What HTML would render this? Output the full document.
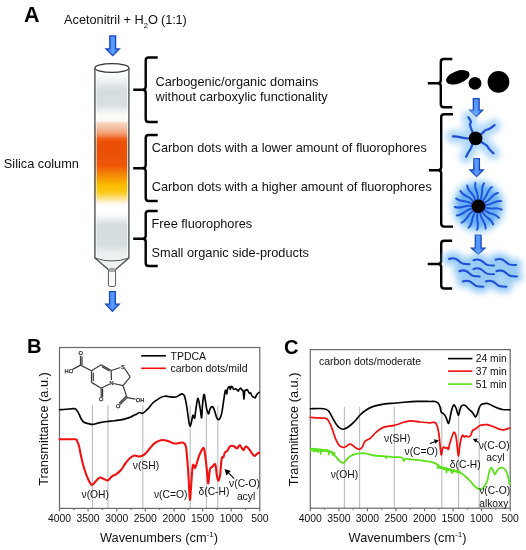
<!DOCTYPE html>
<html><head><meta charset="utf-8"><style>
html,body{margin:0;padding:0;background:#fff;}
body{width:526px;height:550px;overflow:hidden;}
svg{display:block;will-change:transform;}
text{font-family:"Liberation Sans", sans-serif;}
</style></head><body>
<svg width="526" height="550" viewBox="0 0 526 550" font-family='"Liberation Sans", sans-serif'><defs>
<linearGradient id="arrg" x1="0" y1="0" x2="1" y2="0">
 <stop offset="0" stop-color="#3a7ff0"/><stop offset="0.5" stop-color="#5a9cf8"/><stop offset="1" stop-color="#3a7ff0"/>
</linearGradient>
<linearGradient id="colg" x1="0" y1="68" x2="0" y2="262" gradientUnits="userSpaceOnUse"><stop offset="0" stop-color="#ffffff"/><stop offset="0.035" stop-color="#fbfcfc"/><stop offset="0.065" stop-color="#f0f3f3"/><stop offset="0.097" stop-color="#dde3e5"/><stop offset="0.122" stop-color="#d6dddf"/><stop offset="0.19" stop-color="#d8dfe1"/><stop offset="0.22" stop-color="#eef0f0"/><stop offset="0.245" stop-color="#fbfbfa"/><stop offset="0.27" stop-color="#fdfaf6"/><stop offset="0.287" stop-color="#f7d2bb"/><stop offset="0.325" stop-color="#f3b08a"/><stop offset="0.345" stop-color="#f2905c"/><stop offset="0.362" stop-color="#f06420"/><stop offset="0.38" stop-color="#ec5006"/><stop offset="0.44" stop-color="#eb5008"/><stop offset="0.505" stop-color="#ef5606"/><stop offset="0.535" stop-color="#f27a08"/><stop offset="0.57" stop-color="#f69a04"/><stop offset="0.605" stop-color="#fbbe00"/><stop offset="0.64" stop-color="#fdc818"/><stop offset="0.668" stop-color="#fde07a"/><stop offset="0.695" stop-color="#fef6de"/><stop offset="0.715" stop-color="#ffffff"/><stop offset="0.76" stop-color="#fafbfb"/><stop offset="0.785" stop-color="#e6eaeb"/><stop offset="0.81" stop-color="#d6dde0"/><stop offset="0.91" stop-color="#d6dde0"/><stop offset="0.95" stop-color="#eaeeef"/><stop offset="1" stop-color="#f4f6f6"/></linearGradient>
<linearGradient id="colh" x1="0" y1="0" x2="1" y2="0">
 <stop offset="0" stop-color="#000" stop-opacity="0.06"/><stop offset="0.3" stop-color="#000" stop-opacity="0"/>
 <stop offset="0.7" stop-color="#000" stop-opacity="0"/><stop offset="1" stop-color="#000" stop-opacity="0.06"/>
</linearGradient>
<filter id="glow" x="-50%" y="-50%" width="200%" height="200%"><feGaussianBlur stdDeviation="3"/></filter>
<filter id="glow2" x="-50%" y="-50%" width="200%" height="200%"><feGaussianBlur stdDeviation="2.2"/></filter>
</defs><rect width="526" height="550" fill="#fff"/><text x="24" y="21.7" font-size="21.5" text-anchor="start" font-weight="bold" fill="#000" >A</text><text x="64" y="24.2" font-size="12.75" fill="#111">Acetonitril + H<tspan font-size="7.6" dy="3.4">2</tspan><tspan dy="-3.4" letter-spacing="-0.15">O (1:1)</tspan></text><polygon points="109.8,35.8 115.60000000000001,35.8 115.60000000000001,48.8 119.4,48.8 112.7,55.6 106.0,48.8 109.8,48.8" fill="url(#arrg)" stroke="#1a48c2" stroke-width="1.3" stroke-linejoin="miter"/><path d="M94.9,68 L94.9,258 L108.3,269 L115.6,269 L128.9,258 L128.9,68 Z" fill="url(#colg)"/><path d="M96.2,70 L96.2,257 M127.60000000000001,70 L127.60000000000001,257" stroke="#fff" stroke-opacity="0.75" stroke-width="1.1"/><path d="M94.9,258 Q111.9,263 128.9,258 L115.6,269 L108.3,269 Z" fill="#f1f3f3"/><path d="M94.9,68 L94.9,258 L108.3,269.5 M128.9,68 L128.9,258 L115.6,269.5" fill="none" stroke="#4a4f4f" stroke-width="1.35"/><path d="M94.9,258 Q111.9,264 128.9,258" fill="none" stroke="#444" stroke-width="0.9"/><ellipse cx="111.9" cy="68" rx="17.0" ry="4.4" fill="#fff" stroke="#333" stroke-width="1.1"/><path d="M108.4,270 L108.4,284.5 Q108.4,286.5 110.4,286.5 L113.6,286.5 Q115.6,286.5 115.6,284.5 L115.6,270" fill="#f7f8f8" stroke="#444" stroke-width="0.9"/><ellipse cx="112" cy="270" rx="3.6" ry="1.2" fill="#ddd" stroke="#444" stroke-width="0.8"/><polygon points="109.55,291.6 115.35000000000001,291.6 115.35000000000001,304.2 119.15,304.2 112.45,311.2 105.75,304.2 109.55,304.2" fill="url(#arrg)" stroke="#1a48c2" stroke-width="1.3" stroke-linejoin="miter"/><text x="3.8" y="167.8" font-size="12.75" text-anchor="start" font-weight="normal" fill="#111" >Silica column</text><path d="M157.7,57.5 L148.7,57.5 Q145.7,57.5 145.7,60.5 L145.7,86.7 Q145.7,89.7 142.7,89.7 L133.2,89.7 M142.7,89.7 Q145.7,89.7 145.7,92.7 L145.7,119 Q145.7,122 148.7,122 L157.7,122" fill="none" stroke="#000" stroke-width="2.4" stroke-linejoin="round"/><path d="M157.7,135 L148.7,135 Q145.7,135 145.7,138 L145.7,165.2 Q145.7,168.2 142.7,168.2 L133.2,168.2 M142.7,168.2 Q145.7,168.2 145.7,171.2 L145.7,198 Q145.7,201 148.7,201 L157.7,201" fill="none" stroke="#000" stroke-width="2.4" stroke-linejoin="round"/><path d="M157.7,211 L148.7,211 Q145.7,211 145.7,214 L145.7,235.8 Q145.7,238.8 142.7,238.8 L133.2,238.8 M142.7,238.8 Q145.7,238.8 145.7,241.8 L145.7,263 Q145.7,266 148.7,266 L157.7,266" fill="none" stroke="#000" stroke-width="2.4" stroke-linejoin="round"/><text x="155.5" y="86.4" font-size="12.8" text-anchor="start" font-weight="normal" fill="#111" >Carbogenic/organic domains</text><text x="155.5" y="101.2" font-size="12.8" text-anchor="start" font-weight="normal" fill="#111" >without carboxylic functionality</text><text x="151.8" y="151.5" font-size="12.75" text-anchor="start" font-weight="normal" fill="#111" >Carbon dots with a lower amount of fluorophores</text><text x="151.8" y="190.5" font-size="12.75" text-anchor="start" font-weight="normal" fill="#111" >Carbon dots with a higher amount of fluorophores</text><text x="151.5" y="228.1" font-size="12.75" text-anchor="start" font-weight="normal" fill="#111" >Free fluorophores</text><text x="151.5" y="256.7" font-size="12.75" text-anchor="start" font-weight="normal" fill="#111" >Small organic side-products</text><path d="M452.3,59 L443.8,59 Q440.8,59 440.8,62 L440.8,80.3 Q440.8,83.3 437.8,83.3 L427.8,83.3 M437.8,83.3 Q440.8,83.3 440.8,86.3 L440.8,104.2 Q440.8,107.2 443.8,107.2 L452.3,107.2" fill="none" stroke="#000" stroke-width="2.4" stroke-linejoin="round"/><path d="M453.0,114.2 L444.2,114.2 Q441.2,114.2 441.2,117.2 L441.2,167.2 Q441.2,170.2 438.2,170.2 L428.9,170.2 M438.2,170.2 Q441.2,170.2 441.2,173.2 L441.2,223.6 Q441.2,226.6 444.2,226.6 L453.0,226.6" fill="none" stroke="#000" stroke-width="2.4" stroke-linejoin="round"/><path d="M452.2,240.8 L444.2,240.8 Q441.2,240.8 441.2,243.8 L441.2,261 Q441.2,264 438.2,264 L427.7,264 M438.2,264 Q441.2,264 441.2,267 L441.2,285.5 Q441.2,288.5 444.2,288.5 L452.2,288.5" fill="none" stroke="#000" stroke-width="2.4" stroke-linejoin="round"/><ellipse cx="457.8" cy="77.3" rx="12.2" ry="6.3" transform="rotate(-20 457.8 77.3)" fill="#000"/><circle cx="475" cy="83.3" r="6.4" fill="#000"/><circle cx="498.5" cy="81.9" r="10.9" fill="#000"/><polygon points="473.35,98.6 479.15,98.6 479.15,110.2 482.65,110.2 476.25,116.6 469.85,110.2 473.35,110.2" fill="url(#arrg)" stroke="#1a48c2" stroke-width="1.3" stroke-linejoin="miter"/><polygon points="473.8,158.6 479.40000000000003,158.6 479.40000000000003,170 483.3,170 476.6,176.6 469.90000000000003,170 473.8,170" fill="url(#arrg)" stroke="#1a48c2" stroke-width="1.3" stroke-linejoin="miter"/><polygon points="475.3,235.1 481.09999999999997,235.1 481.09999999999997,248.2 484.9,248.2 478.2,254.2 471.5,248.2 475.3,248.2" fill="url(#arrg)" stroke="#1a48c2" stroke-width="1.3" stroke-linejoin="miter"/><g filter="url(#glow)" opacity="0.9"><path d="M475.60,138.40 C475.08,137.33 473.42,134.27 472.50,132.00 C471.58,129.73 470.37,126.57 470.10,124.80 C469.83,123.03 471.18,122.67 470.90,121.40 C470.62,120.13 468.82,117.90 468.40,117.20" fill="none" stroke="#a4d3f9" stroke-width="13" stroke-linejoin="round" stroke-linecap="round" /><path d="M475.60,138.40 C476.58,137.67 479.85,135.37 481.50,134.00 C483.15,132.63 484.17,131.07 485.50,130.20 C486.83,129.33 487.98,129.63 489.50,128.80 C491.02,127.97 493.75,125.80 494.60,125.20" fill="none" stroke="#a4d3f9" stroke-width="13" stroke-linejoin="round" stroke-linecap="round" /><path d="M475.60,138.40 C474.50,138.42 471.05,138.58 469.00,138.50 C466.95,138.42 465.02,138.18 463.30,137.90 C461.58,137.62 460.45,137.05 458.70,136.80 C456.95,136.55 453.78,136.47 452.80,136.40" fill="none" stroke="#a4d3f9" stroke-width="13" stroke-linejoin="round" stroke-linecap="round" /><path d="M475.60,138.40 C475.07,139.42 473.22,142.77 472.40,144.50 C471.58,146.23 471.37,147.52 470.70,148.80 C470.03,150.08 469.17,150.87 468.40,152.20 C467.63,153.53 466.48,156.03 466.10,156.80" fill="none" stroke="#a4d3f9" stroke-width="13" stroke-linejoin="round" stroke-linecap="round" /><path d="M475.60,138.40 C476.67,139.08 480.17,141.33 482.00,142.50 C483.83,143.67 485.35,144.25 486.60,145.40 C487.85,146.55 488.35,148.08 489.50,149.40 C490.65,150.72 492.83,152.65 493.50,153.30" fill="none" stroke="#a4d3f9" stroke-width="13" stroke-linejoin="round" stroke-linecap="round" /></g><path d="M475.60,138.40 C475.08,137.33 473.42,134.27 472.50,132.00 C471.58,129.73 470.37,126.57 470.10,124.80 C469.83,123.03 471.18,122.67 470.90,121.40 C470.62,120.13 468.82,117.90 468.40,117.20" fill="none" stroke="#1f50d4" stroke-width="2.2" stroke-linejoin="round" stroke-linecap="round" /><path d="M475.60,138.40 C476.58,137.67 479.85,135.37 481.50,134.00 C483.15,132.63 484.17,131.07 485.50,130.20 C486.83,129.33 487.98,129.63 489.50,128.80 C491.02,127.97 493.75,125.80 494.60,125.20" fill="none" stroke="#1f50d4" stroke-width="2.2" stroke-linejoin="round" stroke-linecap="round" /><path d="M475.60,138.40 C474.50,138.42 471.05,138.58 469.00,138.50 C466.95,138.42 465.02,138.18 463.30,137.90 C461.58,137.62 460.45,137.05 458.70,136.80 C456.95,136.55 453.78,136.47 452.80,136.40" fill="none" stroke="#1f50d4" stroke-width="2.2" stroke-linejoin="round" stroke-linecap="round" /><path d="M475.60,138.40 C475.07,139.42 473.22,142.77 472.40,144.50 C471.58,146.23 471.37,147.52 470.70,148.80 C470.03,150.08 469.17,150.87 468.40,152.20 C467.63,153.53 466.48,156.03 466.10,156.80" fill="none" stroke="#1f50d4" stroke-width="2.2" stroke-linejoin="round" stroke-linecap="round" /><path d="M475.60,138.40 C476.67,139.08 480.17,141.33 482.00,142.50 C483.83,143.67 485.35,144.25 486.60,145.40 C487.85,146.55 488.35,148.08 489.50,149.40 C490.65,150.72 492.83,152.65 493.50,153.30" fill="none" stroke="#1f50d4" stroke-width="2.2" stroke-linejoin="round" stroke-linecap="round" /><circle cx="475.6" cy="138.4" r="6.9" fill="#000"/><circle cx="478.4" cy="206.2" r="26.5" fill="#a4d2f9" filter="url(#glow)"/><circle cx="478.4" cy="206.2" r="21" fill="#62acf3" filter="url(#glow2)" opacity="0.9"/><path d="M484.8,207.2 C489.9,210.6 496.6,206.3 501.6,209.7" stroke="#1f55da" stroke-width="2" fill="none" stroke-linecap="round"/><path d="M484.0,209.4 C487.5,214.4 495.3,212.9 498.8,217.9" stroke="#1f55da" stroke-width="2" fill="none" stroke-linecap="round"/><path d="M482.5,211.2 C483.9,217.2 491.8,218.5 493.2,224.4" stroke="#1f55da" stroke-width="2" fill="none" stroke-linecap="round"/><path d="M480.4,212.4 C479.6,218.4 486.4,222.5 485.6,228.6" stroke="#1f55da" stroke-width="2" fill="none" stroke-linecap="round"/><path d="M478.0,212.7 C475.1,218.0 480.0,224.3 477.0,229.7" stroke="#1f55da" stroke-width="2" fill="none" stroke-linecap="round"/><path d="M475.7,212.1 C471.1,216.0 473.3,223.7 468.7,227.6" stroke="#1f55da" stroke-width="2" fill="none" stroke-linecap="round"/><path d="M473.8,210.7 C468.0,212.7 467.3,220.6 461.6,222.6" stroke="#1f55da" stroke-width="2" fill="none" stroke-linecap="round"/><path d="M472.4,208.8 C466.3,208.5 462.9,215.7 456.8,215.4" stroke="#1f55da" stroke-width="2" fill="none" stroke-linecap="round"/><path d="M471.9,206.4 C466.3,204.0 460.5,209.4 454.9,207.0" stroke="#1f55da" stroke-width="2" fill="none" stroke-linecap="round"/><path d="M472.3,204.1 C467.9,199.8 460.5,202.7 456.2,198.5" stroke="#1f55da" stroke-width="2" fill="none" stroke-linecap="round"/><path d="M473.4,202.0 C470.9,196.4 463.0,196.5 460.5,191.0" stroke="#1f55da" stroke-width="2" fill="none" stroke-linecap="round"/><path d="M475.3,200.5 C475.0,194.4 467.5,191.6 467.2,185.5" stroke="#1f55da" stroke-width="2" fill="none" stroke-linecap="round"/><path d="M477.6,199.8 C479.5,194.0 473.5,188.7 475.4,182.9" stroke="#1f55da" stroke-width="2" fill="none" stroke-linecap="round"/><path d="M480.0,199.9 C483.8,195.2 480.2,188.1 484.0,183.4" stroke="#1f55da" stroke-width="2" fill="none" stroke-linecap="round"/><path d="M482.1,200.9 C487.4,197.9 486.6,190.0 491.9,187.0" stroke="#1f55da" stroke-width="2" fill="none" stroke-linecap="round"/><path d="M483.8,202.6 C489.8,201.7 491.9,194.0 497.9,193.1" stroke="#1f55da" stroke-width="2" fill="none" stroke-linecap="round"/><path d="M484.7,204.8 C490.7,206.1 495.4,199.7 501.3,201.1" stroke="#1f55da" stroke-width="2" fill="none" stroke-linecap="round"/><circle cx="478.4" cy="206.2" r="6.8" fill="#000"/><g filter="url(#glow)" opacity="0.9"><path d="M449,259.0 C453,257.4 456,257.8 459,261.0 S464,264.2 469.5,264.2" stroke="#8cc6f6" stroke-width="12" fill="none" stroke-linecap="round"/><path d="M473.5,260.3 C477.5,258.7 480.5,259.1 483.5,262.3 S488.5,265.5 494.0,265.5" stroke="#8cc6f6" stroke-width="12" fill="none" stroke-linecap="round"/><path d="M495.6,259.8 C499.6,258.2 502.6,258.6 505.6,261.8 S510.6,265 516.1,265" stroke="#8cc6f6" stroke-width="12" fill="none" stroke-linecap="round"/><path d="M459.3,271.2 C463.3,269.59999999999997 466.3,270.0 469.3,273.2 S474.3,276.4 479.8,276.4" stroke="#8cc6f6" stroke-width="12" fill="none" stroke-linecap="round"/><path d="M473.5,269.1 C477.5,267.5 480.5,267.90000000000003 483.5,271.1 S488.5,274.3 494.0,274.3" stroke="#8cc6f6" stroke-width="12" fill="none" stroke-linecap="round"/><path d="M496.4,271.2 C500.4,269.59999999999997 503.4,270.0 506.4,273.2 S511.4,276.4 516.9,276.4" stroke="#8cc6f6" stroke-width="12" fill="none" stroke-linecap="round"/><path d="M462.9,281.5 C466.9,279.9 469.9,280.3 472.9,283.5 S477.9,286.7 483.4,286.7" stroke="#8cc6f6" stroke-width="12" fill="none" stroke-linecap="round"/><path d="M485.8,281.5 C489.8,279.9 492.8,280.3 495.8,283.5 S500.8,286.7 506.3,286.7" stroke="#8cc6f6" stroke-width="12" fill="none" stroke-linecap="round"/></g><path d="M449,259.0 C453,257.4 456,257.8 459,261.0 S464,264.2 469.5,264.2" stroke="#1f4fd4" stroke-width="2" fill="none" stroke-linecap="round"/><path d="M473.5,260.3 C477.5,258.7 480.5,259.1 483.5,262.3 S488.5,265.5 494.0,265.5" stroke="#1f4fd4" stroke-width="2" fill="none" stroke-linecap="round"/><path d="M495.6,259.8 C499.6,258.2 502.6,258.6 505.6,261.8 S510.6,265 516.1,265" stroke="#1f4fd4" stroke-width="2" fill="none" stroke-linecap="round"/><path d="M459.3,271.2 C463.3,269.59999999999997 466.3,270.0 469.3,273.2 S474.3,276.4 479.8,276.4" stroke="#1f4fd4" stroke-width="2" fill="none" stroke-linecap="round"/><path d="M473.5,269.1 C477.5,267.5 480.5,267.90000000000003 483.5,271.1 S488.5,274.3 494.0,274.3" stroke="#1f4fd4" stroke-width="2" fill="none" stroke-linecap="round"/><path d="M496.4,271.2 C500.4,269.59999999999997 503.4,270.0 506.4,273.2 S511.4,276.4 516.9,276.4" stroke="#1f4fd4" stroke-width="2" fill="none" stroke-linecap="round"/><path d="M462.9,281.5 C466.9,279.9 469.9,280.3 472.9,283.5 S477.9,286.7 483.4,286.7" stroke="#1f4fd4" stroke-width="2" fill="none" stroke-linecap="round"/><path d="M485.8,281.5 C489.8,279.9 492.8,280.3 495.8,283.5 S500.8,286.7 506.3,286.7" stroke="#1f4fd4" stroke-width="2" fill="none" stroke-linecap="round"/><line x1="92.5" y1="405.3" x2="92.5" y2="508.3" stroke="#b8bcbc" stroke-width="1.1"/><line x1="107.9" y1="405.3" x2="107.9" y2="508.3" stroke="#b8bcbc" stroke-width="1.1"/><line x1="142.8" y1="405.3" x2="142.8" y2="508.3" stroke="#b8bcbc" stroke-width="1.1"/><line x1="190.2" y1="405.3" x2="190.2" y2="508.3" stroke="#b8bcbc" stroke-width="1.1"/><line x1="206.4" y1="405.3" x2="206.4" y2="508.3" stroke="#b8bcbc" stroke-width="1.1"/><line x1="217.8" y1="405.3" x2="217.8" y2="508.3" stroke="#b8bcbc" stroke-width="1.1"/><line x1="344.4" y1="406.8" x2="344.4" y2="508.2" stroke="#b8bcbc" stroke-width="1.1"/><line x1="359.6" y1="406.8" x2="359.6" y2="508.2" stroke="#b8bcbc" stroke-width="1.1"/><line x1="394.3" y1="406.8" x2="394.3" y2="508.2" stroke="#b8bcbc" stroke-width="1.1"/><line x1="441.8" y1="406.8" x2="441.8" y2="508.2" stroke="#b8bcbc" stroke-width="1.1"/><line x1="458.6" y1="406.8" x2="458.6" y2="508.2" stroke="#b8bcbc" stroke-width="1.1"/><line x1="479.2" y1="406.8" x2="479.2" y2="508.2" stroke="#b8bcbc" stroke-width="1.1"/><rect x="59.5" y="347.5" width="200.3" height="160.89999999999998" fill="none" stroke="#6a6a6a" stroke-width="1.2"/><line x1="59.5" y1="508.4" x2="59.5" y2="511.4" stroke="#6a6a6a" stroke-width="1.1"/><text x="59.5" y="521.6999999999999" font-size="10.4" text-anchor="middle" font-weight="normal" fill="#111" >4000</text><line x1="73.8" y1="508.4" x2="73.8" y2="510.0" stroke="#6a6a6a" stroke-width="1.1"/><line x1="88.1" y1="508.4" x2="88.1" y2="511.4" stroke="#6a6a6a" stroke-width="1.1"/><text x="88.1" y="521.6999999999999" font-size="10.4" text-anchor="middle" font-weight="normal" fill="#111" >3500</text><line x1="102.4" y1="508.4" x2="102.4" y2="510.0" stroke="#6a6a6a" stroke-width="1.1"/><line x1="116.7" y1="508.4" x2="116.7" y2="511.4" stroke="#6a6a6a" stroke-width="1.1"/><text x="116.7" y="521.6999999999999" font-size="10.4" text-anchor="middle" font-weight="normal" fill="#111" >3000</text><line x1="131.0" y1="508.4" x2="131.0" y2="510.0" stroke="#6a6a6a" stroke-width="1.1"/><line x1="145.3" y1="508.4" x2="145.3" y2="511.4" stroke="#6a6a6a" stroke-width="1.1"/><text x="145.3" y="521.6999999999999" font-size="10.4" text-anchor="middle" font-weight="normal" fill="#111" >2500</text><line x1="159.7" y1="508.4" x2="159.7" y2="510.0" stroke="#6a6a6a" stroke-width="1.1"/><line x1="174.0" y1="508.4" x2="174.0" y2="511.4" stroke="#6a6a6a" stroke-width="1.1"/><text x="174.0" y="521.6999999999999" font-size="10.4" text-anchor="middle" font-weight="normal" fill="#111" >2000</text><line x1="188.3" y1="508.4" x2="188.3" y2="510.0" stroke="#6a6a6a" stroke-width="1.1"/><line x1="202.6" y1="508.4" x2="202.6" y2="511.4" stroke="#6a6a6a" stroke-width="1.1"/><text x="202.6" y="521.6999999999999" font-size="10.4" text-anchor="middle" font-weight="normal" fill="#111" >1500</text><line x1="216.9" y1="508.4" x2="216.9" y2="510.0" stroke="#6a6a6a" stroke-width="1.1"/><line x1="231.2" y1="508.4" x2="231.2" y2="511.4" stroke="#6a6a6a" stroke-width="1.1"/><text x="231.2" y="521.6999999999999" font-size="10.4" text-anchor="middle" font-weight="normal" fill="#111" >1000</text><line x1="245.5" y1="508.4" x2="245.5" y2="510.0" stroke="#6a6a6a" stroke-width="1.1"/><line x1="259.8" y1="508.4" x2="259.8" y2="511.4" stroke="#6a6a6a" stroke-width="1.1"/><text x="259.8" y="521.6999999999999" font-size="10.4" text-anchor="middle" font-weight="normal" fill="#111" >500</text><text transform="translate(26.9,352.7) scale(0.96,1)" font-size="21" font-weight="bold" fill="#000">B</text><rect x="310.3" y="349.6" width="199.89999999999998" height="158.59999999999997" fill="none" stroke="#6a6a6a" stroke-width="1.2"/><line x1="310.3" y1="508.2" x2="310.3" y2="511.2" stroke="#6a6a6a" stroke-width="1.1"/><text x="310.3" y="521.5" font-size="10.4" text-anchor="middle" font-weight="normal" fill="#111" >4000</text><line x1="324.6" y1="508.2" x2="324.6" y2="509.8" stroke="#6a6a6a" stroke-width="1.1"/><line x1="338.9" y1="508.2" x2="338.9" y2="511.2" stroke="#6a6a6a" stroke-width="1.1"/><text x="338.9" y="521.5" font-size="10.4" text-anchor="middle" font-weight="normal" fill="#111" >3500</text><line x1="353.1" y1="508.2" x2="353.1" y2="509.8" stroke="#6a6a6a" stroke-width="1.1"/><line x1="367.4" y1="508.2" x2="367.4" y2="511.2" stroke="#6a6a6a" stroke-width="1.1"/><text x="367.4" y="521.5" font-size="10.4" text-anchor="middle" font-weight="normal" fill="#111" >3000</text><line x1="381.7" y1="508.2" x2="381.7" y2="509.8" stroke="#6a6a6a" stroke-width="1.1"/><line x1="396.0" y1="508.2" x2="396.0" y2="511.2" stroke="#6a6a6a" stroke-width="1.1"/><text x="396.0" y="521.5" font-size="10.4" text-anchor="middle" font-weight="normal" fill="#111" >2500</text><line x1="410.2" y1="508.2" x2="410.2" y2="509.8" stroke="#6a6a6a" stroke-width="1.1"/><line x1="424.5" y1="508.2" x2="424.5" y2="511.2" stroke="#6a6a6a" stroke-width="1.1"/><text x="424.5" y="521.5" font-size="10.4" text-anchor="middle" font-weight="normal" fill="#111" >2000</text><line x1="438.8" y1="508.2" x2="438.8" y2="509.8" stroke="#6a6a6a" stroke-width="1.1"/><line x1="453.1" y1="508.2" x2="453.1" y2="511.2" stroke="#6a6a6a" stroke-width="1.1"/><text x="453.1" y="521.5" font-size="10.4" text-anchor="middle" font-weight="normal" fill="#111" >1500</text><line x1="467.4" y1="508.2" x2="467.4" y2="509.8" stroke="#6a6a6a" stroke-width="1.1"/><line x1="481.6" y1="508.2" x2="481.6" y2="511.2" stroke="#6a6a6a" stroke-width="1.1"/><text x="481.6" y="521.5" font-size="10.4" text-anchor="middle" font-weight="normal" fill="#111" >1000</text><line x1="495.9" y1="508.2" x2="495.9" y2="509.8" stroke="#6a6a6a" stroke-width="1.1"/><line x1="510.2" y1="508.2" x2="510.2" y2="511.2" stroke="#6a6a6a" stroke-width="1.1"/><text x="510.2" y="521.5" font-size="10.4" text-anchor="middle" font-weight="normal" fill="#111" >500</text><text transform="translate(284.1,353.6) scale(0.96,1)" font-size="21" font-weight="bold" fill="#000">C</text><text x="100" y="541.5" font-size="12.75" fill="#111">Wavenumbers (cm<tspan font-size="8" dy="-4.5">-1</tspan><tspan dy="4.5">)</tspan></text><text x="348.6" y="541.5" font-size="12.75" fill="#111">Wavenumbers (cm<tspan font-size="8" dy="-4.5">-1</tspan><tspan dy="4.5">)</tspan></text><text x="0" y="0" font-size="12.75" text-anchor="start" font-weight="normal" fill="#111" transform="translate(48.2,485.8) rotate(-90)">Transmittance (a.u.)</text><text x="0" y="0" font-size="12.75" text-anchor="start" font-weight="normal" fill="#111" transform="translate(298.3,486.2) rotate(-90)">Transmittance (a.u.)</text><line x1="141.2" y1="355.8" x2="165.9" y2="355.8" stroke="#000" stroke-width="1.6"/><line x1="141.2" y1="368.3" x2="165.9" y2="368.3" stroke="#f01010" stroke-width="1.6"/><text x="170.5" y="359.6" font-size="10.5" text-anchor="start" font-weight="normal" fill="#111" >TPDCA</text><text x="170.5" y="371.8" font-size="10.5" text-anchor="start" font-weight="normal" fill="#111" >carbon dots/mild</text><text x="318.9" y="364.6" font-size="10.5" text-anchor="start" font-weight="normal" fill="#111" >carbon dots/moderate</text><line x1="448" y1="358.6" x2="472.4" y2="358.6" stroke="#000" stroke-width="1.6"/><line x1="448" y1="371.1" x2="472.4" y2="371.1" stroke="#f01010" stroke-width="1.6"/><line x1="448" y1="384.1" x2="472.4" y2="384.1" stroke="#55e01a" stroke-width="1.6"/><text x="475.8" y="362.1" font-size="10.3" text-anchor="start" font-weight="normal" fill="#111" >24 min</text><text x="475.8" y="374.6" font-size="10.3" text-anchor="start" font-weight="normal" fill="#111" >37 min</text><text x="475.8" y="387.6" font-size="10.3" text-anchor="start" font-weight="normal" fill="#111" >51 min</text><path d="M59.50,409.70 C60.58,409.63 63.53,409.48 66.00,409.30 C68.47,409.12 72.45,408.35 74.30,408.60 C76.15,408.85 76.25,409.77 77.10,410.80 C77.95,411.83 78.73,413.47 79.40,414.80 C80.07,416.13 80.33,417.57 81.10,418.80 C81.87,420.03 82.77,421.40 84.00,422.20 C85.23,423.00 87.08,423.23 88.50,423.60 C89.92,423.97 91.08,424.43 92.50,424.40 C93.92,424.37 95.75,423.70 97.00,423.40 C98.25,423.10 98.35,422.92 100.00,422.60 C101.65,422.28 104.57,421.80 106.90,421.50 C109.23,421.20 111.67,421.07 114.00,420.80 C116.33,420.53 118.90,420.27 120.90,419.90 C122.90,419.53 124.35,419.10 126.00,418.60 C127.65,418.10 129.47,417.45 130.80,416.90 C132.13,416.35 133.00,415.80 134.00,415.30 C135.00,414.80 135.83,414.37 136.80,413.90 C137.77,413.43 138.80,412.60 139.80,412.50 C140.80,412.40 141.63,413.73 142.80,413.30 C143.97,412.87 145.60,411.03 146.80,409.90 C148.00,408.77 149.00,407.65 150.00,406.50 C151.00,405.35 151.62,404.12 152.80,403.00 C153.98,401.88 155.78,400.73 157.10,399.80 C158.42,398.87 159.42,398.00 160.70,397.40 C161.98,396.80 163.43,396.33 164.80,396.20 C166.17,396.07 167.52,396.45 168.90,396.60 C170.28,396.75 171.82,397.07 173.10,397.10 C174.38,397.13 175.52,397.15 176.60,396.80 C177.68,396.45 178.70,395.48 179.60,395.00 C180.50,394.52 181.22,393.80 182.00,393.90 C182.78,394.00 183.62,394.13 184.30,395.60 C184.98,397.07 185.53,399.77 186.10,402.70 C186.67,405.63 187.22,409.88 187.70,413.20 C188.18,416.52 188.57,420.43 189.00,422.60 C189.43,424.77 189.88,426.33 190.30,426.20 C190.72,426.07 191.08,423.60 191.50,421.80 C191.92,420.00 192.43,416.25 192.80,415.40 C193.17,414.55 193.38,416.28 193.70,416.70 C194.02,417.12 194.35,419.05 194.70,417.90 C195.05,416.75 195.40,412.57 195.80,409.80 C196.20,407.03 196.72,403.22 197.10,401.30 C197.48,399.38 197.75,398.02 198.10,398.30 C198.45,398.58 198.80,400.93 199.20,403.00 C199.60,405.07 200.10,408.22 200.50,410.70 C200.90,413.18 201.28,418.62 201.60,417.90 C201.92,417.18 202.08,410.03 202.40,406.40 C202.72,402.77 203.17,398.03 203.50,396.10 C203.83,394.17 204.12,394.23 204.40,394.80 C204.68,395.37 204.85,397.28 205.20,399.50 C205.55,401.72 206.07,405.95 206.50,408.10 C206.93,410.25 207.43,411.47 207.80,412.40 C208.17,413.33 208.35,414.20 208.70,413.70 C209.05,413.20 209.40,410.55 209.90,409.40 C210.40,408.25 211.12,407.08 211.70,406.80 C212.28,406.52 212.83,406.77 213.40,407.70 C213.97,408.63 214.53,410.70 215.10,412.40 C215.67,414.10 216.23,416.70 216.80,417.90 C217.37,419.10 217.93,419.60 218.50,419.60 C219.07,419.60 219.63,419.10 220.20,417.90 C220.77,416.70 221.35,415.08 221.90,412.40 C222.45,409.72 223.02,405.05 223.50,401.80 C223.98,398.55 224.47,394.83 224.80,392.90 C225.13,390.97 225.27,390.35 225.50,390.20 C225.73,390.05 225.98,391.40 226.20,392.00 C226.42,392.60 226.58,394.25 226.80,393.80 C227.02,393.35 227.15,390.50 227.50,389.30 C227.85,388.10 228.53,386.90 228.90,386.60 C229.27,386.30 229.45,387.05 229.70,387.50 C229.95,387.95 230.17,389.45 230.40,389.30 C230.63,389.15 230.77,386.97 231.10,386.60 C231.43,386.23 231.95,386.65 232.40,387.10 C232.85,387.55 233.27,389.00 233.80,389.30 C234.33,389.60 235.08,388.83 235.60,388.90 C236.12,388.97 236.48,389.33 236.90,389.70 C237.32,390.07 237.73,391.10 238.10,391.10 C238.47,391.10 238.70,390.22 239.10,389.70 C239.50,389.18 240.05,388.00 240.50,388.00 C240.95,388.00 241.35,389.12 241.80,389.70 C242.25,390.28 242.83,389.93 243.20,391.50 C243.57,393.07 243.75,399.17 244.00,399.10 C244.25,399.03 244.40,392.58 244.70,391.10 C245.00,389.62 245.38,390.43 245.80,390.20 C246.22,389.97 246.80,389.55 247.20,389.70 C247.60,389.85 247.83,390.50 248.20,391.10 C248.57,391.70 249.00,393.00 249.40,393.30 C249.80,393.60 250.23,392.60 250.60,392.90 C250.97,393.20 251.20,394.43 251.60,395.10 C252.00,395.77 252.55,396.53 253.00,396.90 C253.45,397.27 253.93,397.15 254.30,397.30 C254.67,397.45 254.90,398.02 255.20,397.80 C255.50,397.58 255.73,396.67 256.10,396.00 C256.47,395.33 256.88,394.40 257.40,393.80 C257.92,393.20 258.90,392.63 259.20,392.40" fill="none" stroke="#000" stroke-width="1.65" stroke-linejoin="round" stroke-linecap="round" /><path d="M59.50,439.30 C62.08,439.30 72.08,439.02 75.00,439.30 C77.92,439.58 76.33,439.88 77.00,441.00 C77.67,442.12 78.33,443.50 79.00,446.00 C79.67,448.50 80.17,452.33 81.00,456.00 C81.83,459.67 82.83,464.18 84.00,468.00 C85.17,471.82 86.67,476.08 88.00,478.90 C89.33,481.72 90.67,484.57 92.00,484.90 C93.33,485.23 94.67,482.13 96.00,480.90 C97.33,479.67 98.67,477.82 100.00,477.50 C101.33,477.18 102.67,478.53 104.00,479.00 C105.33,479.47 106.67,480.75 108.00,480.30 C109.33,479.85 110.67,477.30 112.00,476.30 C113.33,475.30 114.50,475.35 116.00,474.30 C117.50,473.25 119.50,471.72 121.00,470.00 C122.50,468.28 123.50,466.00 125.00,464.00 C126.50,462.00 128.43,459.42 130.00,458.00 C131.57,456.58 132.93,455.75 134.40,455.50 C135.87,455.25 137.40,456.50 138.80,456.50 C140.20,456.50 141.60,456.08 142.80,455.50 C144.00,454.92 144.80,454.22 146.00,453.00 C147.20,451.78 148.73,449.68 150.00,448.20 C151.27,446.72 152.22,445.28 153.60,444.10 C154.98,442.92 156.73,441.78 158.30,441.10 C159.87,440.42 161.42,440.00 163.00,440.00 C164.58,440.00 166.22,440.62 167.80,441.10 C169.38,441.58 171.13,442.50 172.50,442.90 C173.87,443.30 174.82,443.50 176.00,443.50 C177.18,443.50 178.52,443.05 179.60,442.90 C180.68,442.75 181.62,442.40 182.50,442.60 C183.38,442.80 184.30,443.27 184.90,444.10 C185.50,444.93 185.75,445.52 186.10,447.60 C186.45,449.68 186.63,452.33 187.00,456.60 C187.37,460.87 187.93,467.68 188.30,473.20 C188.67,478.72 188.93,485.25 189.20,489.70 C189.47,494.15 189.63,499.68 189.90,499.90 C190.17,500.12 190.48,495.03 190.80,491.00 C191.12,486.97 191.48,479.83 191.80,475.70 C192.12,471.57 192.38,468.00 192.70,466.20 C193.02,464.40 193.32,464.55 193.70,464.90 C194.08,465.25 194.53,468.40 195.00,468.30 C195.47,468.20 195.93,466.03 196.50,464.30 C197.07,462.57 197.65,460.03 198.40,457.90 C199.15,455.77 200.15,453.20 201.00,451.50 C201.85,449.80 202.87,447.48 203.50,447.70 C204.13,447.92 204.27,449.40 204.80,452.80 C205.33,456.20 206.13,463.00 206.70,468.10 C207.27,473.20 207.73,482.77 208.20,483.40 C208.67,484.03 209.12,474.45 209.50,471.90 C209.88,469.35 210.02,468.95 210.50,468.10 C210.98,467.25 211.77,467.43 212.40,466.80 C213.03,466.17 213.77,464.52 214.30,464.30 C214.83,464.08 215.17,463.60 215.60,465.50 C216.03,467.40 216.43,473.15 216.90,475.70 C217.37,478.25 217.88,480.80 218.40,480.80 C218.92,480.80 219.63,477.50 220.00,475.70 C220.37,473.90 220.38,472.32 220.60,470.00 C220.82,467.68 221.05,463.92 221.30,461.80 C221.55,459.68 221.73,458.12 222.10,457.30 C222.47,456.48 223.05,457.63 223.50,456.90 C223.95,456.17 224.35,453.80 224.80,452.90 C225.25,452.00 225.75,451.88 226.20,451.50 C226.65,451.12 227.05,451.18 227.50,450.60 C227.95,450.02 228.45,448.73 228.90,448.00 C229.35,447.27 229.68,446.58 230.20,446.20 C230.72,445.82 231.40,445.70 232.00,445.70 C232.60,445.70 233.20,445.90 233.80,446.20 C234.40,446.50 235.02,447.13 235.60,447.50 C236.18,447.87 236.78,448.62 237.30,448.40 C237.82,448.18 238.25,446.72 238.70,446.20 C239.15,445.68 239.55,445.08 240.00,445.30 C240.45,445.52 240.95,446.83 241.40,447.50 C241.85,448.17 242.30,448.88 242.70,449.30 C243.10,449.72 243.43,450.30 243.80,450.00 C244.17,449.70 244.48,448.07 244.90,447.50 C245.32,446.93 245.77,446.52 246.30,446.60 C246.83,446.68 247.50,447.40 248.10,448.00 C248.70,448.60 249.32,449.38 249.90,450.20 C250.48,451.02 251.02,452.08 251.60,452.90 C252.18,453.72 252.87,454.58 253.40,455.10 C253.93,455.62 254.35,456.07 254.80,456.00 C255.25,455.93 255.58,455.15 256.10,454.70 C256.62,454.25 257.38,453.63 257.90,453.30 C258.42,452.97 258.98,452.80 259.20,452.70" fill="none" stroke="#f01010" stroke-width="2.1" stroke-linejoin="round" stroke-linecap="round" /><path d="M310.30,408.70 C312.58,408.70 320.92,408.28 324.00,408.70 C327.08,409.12 327.22,409.37 328.80,411.20 C330.38,413.03 331.92,417.08 333.50,419.70 C335.08,422.32 336.72,425.32 338.30,426.90 C339.88,428.48 341.42,429.13 343.00,429.20 C344.58,429.27 345.90,428.57 347.80,427.30 C349.70,426.03 352.35,423.65 354.40,421.60 C356.45,419.55 358.20,416.90 360.10,415.00 C362.00,413.10 363.58,411.63 365.80,410.20 C368.02,408.77 370.23,407.45 373.40,406.40 C376.57,405.35 381.30,404.43 384.80,403.90 C388.30,403.37 391.18,403.48 394.40,403.20 C397.62,402.92 400.20,402.50 404.10,402.20 C408.00,401.90 413.48,401.52 417.80,401.40 C422.12,401.28 427.18,401.48 430.00,401.50 C432.82,401.52 433.32,401.20 434.70,401.50 C436.08,401.80 437.42,402.42 438.30,403.30 C439.18,404.18 439.52,405.33 440.00,406.80 C440.48,408.27 440.70,411.02 441.20,412.10 C441.70,413.18 442.40,412.80 443.00,413.30 C443.60,413.80 444.22,414.22 444.80,415.10 C445.38,415.98 445.92,417.22 446.50,418.60 C447.08,419.98 447.80,423.10 448.30,423.40 C448.80,423.70 449.00,422.38 449.50,420.40 C450.00,418.42 450.72,413.87 451.30,411.50 C451.88,409.13 452.52,407.28 453.00,406.20 C453.48,405.12 453.70,404.70 454.20,405.00 C454.70,405.30 455.47,406.72 456.00,408.00 C456.53,409.28 456.97,411.52 457.40,412.70 C457.83,413.88 458.20,415.48 458.60,415.10 C459.00,414.72 459.35,411.88 459.80,410.40 C460.25,408.92 460.65,407.10 461.30,406.20 C461.95,405.30 462.90,405.00 463.70,405.00 C464.50,405.00 465.42,405.70 466.10,406.20 C466.78,406.70 467.12,407.30 467.80,408.00 C468.48,408.70 469.40,409.62 470.20,410.40 C471.00,411.18 471.72,411.62 472.60,412.70 C473.48,413.78 474.72,416.70 475.50,416.90 C476.28,417.10 476.70,415.38 477.30,413.90 C477.90,412.42 478.57,409.40 479.10,408.00 C479.63,406.60 479.93,406.17 480.50,405.50 C481.07,404.83 481.40,404.35 482.50,404.00 C483.60,403.65 485.58,403.20 487.10,403.40 C488.62,403.60 490.08,404.52 491.60,405.20 C493.12,405.88 494.42,406.78 496.20,407.50 C497.98,408.22 500.02,409.12 502.30,409.50 C504.58,409.88 508.63,409.75 509.90,409.80" fill="none" stroke="#000" stroke-width="1.65" stroke-linejoin="round" stroke-linecap="round" /><path d="M310.30,417.40 C312.58,417.53 321.08,417.82 324.00,418.20 C326.92,418.58 326.53,418.18 327.80,419.70 C329.07,421.22 330.65,425.08 331.60,427.30 C332.55,429.52 332.70,430.77 333.50,433.00 C334.30,435.23 335.45,438.65 336.40,440.70 C337.35,442.75 338.07,444.20 339.20,445.30 C340.33,446.40 342.05,447.12 343.20,447.30 C344.35,447.48 345.05,446.93 346.10,446.40 C347.15,445.87 348.55,444.38 349.50,444.10 C350.45,443.82 350.85,444.13 351.80,444.70 C352.75,445.27 353.97,446.73 355.20,447.50 C356.43,448.27 358.07,449.30 359.20,449.30 C360.33,449.30 361.03,448.83 362.00,447.50 C362.97,446.17 363.62,442.85 365.00,441.30 C366.38,439.75 368.28,439.85 370.30,438.20 C372.32,436.55 374.82,433.25 377.10,431.40 C379.38,429.55 381.15,428.10 384.00,427.10 C386.85,426.10 390.78,426.25 394.20,425.40 C397.62,424.55 401.65,422.77 404.50,422.00 C407.35,421.23 408.73,420.80 411.30,420.80 C413.87,420.80 416.78,421.67 419.90,422.00 C423.02,422.33 427.53,422.73 430.00,422.80 C432.47,422.87 433.52,421.92 434.70,422.40 C435.88,422.88 436.40,423.77 437.10,425.70 C437.80,427.63 438.42,430.85 438.90,434.00 C439.38,437.15 439.62,441.15 440.00,444.60 C440.38,448.05 440.80,453.90 441.20,454.70 C441.60,455.50 442.00,450.68 442.40,449.40 C442.80,448.12 443.10,447.20 443.60,447.00 C444.10,446.80 444.82,448.10 445.40,448.20 C445.98,448.30 446.62,447.40 447.10,447.60 C447.58,447.80 447.90,449.90 448.30,449.40 C448.70,448.90 449.00,446.38 449.50,444.60 C450.00,442.82 450.72,440.47 451.30,438.70 C451.88,436.93 452.52,435.08 453.00,434.00 C453.48,432.92 453.73,432.00 454.20,432.20 C454.67,432.40 455.33,433.13 455.80,435.20 C456.27,437.27 456.57,441.15 457.00,444.60 C457.43,448.05 457.97,455.50 458.40,455.90 C458.83,456.30 459.17,449.77 459.60,447.00 C460.03,444.23 460.52,441.27 461.00,439.30 C461.48,437.33 461.95,435.58 462.50,435.20 C463.05,434.82 463.70,436.90 464.30,437.00 C464.90,437.10 465.42,435.80 466.10,435.80 C466.78,435.80 467.62,437.10 468.40,437.00 C469.18,436.90 470.10,436.28 470.80,435.20 C471.50,434.12 471.92,431.48 472.60,430.50 C473.28,429.52 474.12,429.80 474.90,429.30 C475.68,428.80 476.45,428.13 477.30,427.50 C478.15,426.87 478.88,425.95 480.00,425.50 C481.12,425.05 482.82,424.93 484.00,424.80 C485.18,424.67 485.58,424.42 487.10,424.70 C488.62,424.98 491.08,425.75 493.10,426.50 C495.12,427.25 497.42,428.65 499.20,429.20 C500.98,429.75 502.02,430.00 503.80,429.80 C505.58,429.60 508.88,428.30 509.90,428.00" fill="none" stroke="#f01010" stroke-width="1.75" stroke-linejoin="round" stroke-linecap="round" /><path d="M310.50,448.50 C313.38,448.82 324.15,449.60 327.80,450.40 C331.45,451.20 331.07,452.25 332.40,453.30 C333.73,454.35 334.67,455.47 335.80,456.70 C336.93,457.93 338.07,459.67 339.20,460.70 C340.33,461.73 341.73,462.62 342.60,462.90 C343.47,463.18 343.63,463.05 344.40,462.40 C345.17,461.75 346.17,460.05 347.20,459.00 C348.23,457.95 349.27,456.90 350.60,456.10 C351.93,455.30 353.67,454.67 355.20,454.20 C356.73,453.73 358.17,453.45 359.80,453.30 C361.43,453.15 363.05,453.02 365.00,453.30 C366.95,453.58 369.48,454.57 371.50,455.00 C373.52,455.43 375.52,455.73 377.10,455.90 C378.68,456.07 379.60,455.93 381.00,456.00 C382.40,456.07 384.62,455.93 385.50,456.30 C386.38,456.67 386.02,458.17 386.30,458.20 C386.58,458.23 385.88,456.68 387.20,456.50 C388.52,456.32 392.07,456.98 394.20,457.10 C396.33,457.22 398.58,457.00 400.00,457.20 C401.42,457.40 402.03,457.67 402.70,458.30 C403.37,458.93 403.57,460.88 404.00,461.00 C404.43,461.12 403.75,459.23 405.30,459.00 C406.85,458.77 410.63,459.38 413.30,459.60 C415.97,459.82 418.63,459.97 421.30,460.30 C423.97,460.63 426.87,461.05 429.30,461.60 C431.73,462.15 433.90,462.60 435.90,463.60 C437.90,464.60 439.52,466.60 441.30,467.60 C443.08,468.60 444.62,469.03 446.60,469.60 C448.58,470.17 450.98,470.55 453.20,471.00 C455.42,471.45 457.90,471.42 459.90,472.30 C461.90,473.18 463.52,474.87 465.20,476.30 C466.88,477.73 468.42,479.25 470.00,480.90 C471.58,482.55 473.00,484.75 474.70,486.20 C476.40,487.65 478.72,489.40 480.20,489.60 C481.68,489.80 482.43,488.83 483.60,487.40 C484.77,485.97 486.23,483.73 487.20,481.00 C488.17,478.27 488.75,473.20 489.40,471.00 C490.05,468.80 490.57,468.05 491.10,467.80 C491.63,467.55 492.02,468.40 492.60,469.50 C493.18,470.60 493.93,474.07 494.60,474.40 C495.27,474.73 495.87,472.47 496.60,471.50 C497.33,470.53 498.10,469.25 499.00,468.60 C499.90,467.95 501.00,467.45 502.00,467.60 C503.00,467.75 504.08,468.35 505.00,469.50 C505.92,470.65 506.73,472.08 507.50,474.50 C508.27,476.92 509.25,482.42 509.60,484.00" fill="none" stroke="#5be01c" stroke-width="1.8" stroke-linejoin="round" stroke-linecap="round" /><polyline points="310.6,448.9 310.8,451.6 311.1,448.6 311.2,450.9 311.5,448.6 311.7,450.1 311.9,449.1 312.1,450.3 312.4,449.2 312.8,448.8 313.0,451.6 313.3,449.9 313.5,451.1 313.7,450.0 313.9,452.2 314.2,449.1 314.4,450.5 314.6,449.1 315.1,449.0 315.3,451.8 315.5,449.3 315.7,450.4 316.0,448.9 316.2,452.0 316.4,449.4 316.6,451.8 316.9,449.5 317.1,452.3 317.3,449.8 317.5,451.8 317.8,449.6 318.2,449.9 318.4,452.8 318.7,449.1 318.9,452.3 319.1,449.2 319.3,450.6 319.6,449.9 320.0,449.8 320.5,449.5 320.7,455.0 320.9,449.9 321.1,452.6 321.4,450.4 321.6,452.2 321.8,449.3 322.3,450.0 322.7,450.3 322.9,451.7 323.2,450.1 323.4,451.9 323.6,449.5 323.8,450.9 324.1,450.3 324.3,451.4 324.5,449.8 325.0,449.5 325.2,452.2 325.4,450.5 325.9,450.5 326.1,451.9 326.3,449.9 326.8,450.7 327.0,451.4 327.2,449.8 327.4,452.2 327.7,450.3 327.9,451.0 328.1,450.2 328.3,452.5 328.6,451.0 328.8,455.4 329.0,450.8 329.2,454.0 329.5,451.3 329.9,451.5 330.4,451.0 330.6,452.3 330.8,451.5 331.0,452.4 331.3,451.2 331.5,453.2 331.7,451.1 331.9,452.9 332.2,451.4 332.4,452.8 332.6,452.6 332.8,455.8 333.1,452.0 333.3,454.0 333.5,452.0 334.0,453.3 334.2,454.7 334.4,452.3 334.6,454.5 334.9,452.7" fill="none" stroke="#5be01c" stroke-width="0.9" stroke-linejoin="round" stroke-linecap="round" /><polyline points="437.5,465.1 437.7,468.6 438.0,465.6 438.2,467.8 438.5,465.2 438.7,468.9 439.0,466.2 439.5,465.7 439.7,467.3 440.0,466.4 440.2,468.8 440.5,466.0 440.7,469.0 441.0,466.9 441.5,466.8 442.0,466.9 442.2,468.8 442.5,466.6 442.7,467.8 443.0,466.6 443.2,469.4 443.5,467.5 443.7,470.1 444.0,467.7 444.5,467.1 444.7,468.7 445.0,467.1 445.2,469.8 445.5,468.0 446.0,467.6 446.2,472.9 446.5,467.3 446.7,473.3 447.0,468.2 447.5,468.0 447.7,470.8 448.0,468.0 448.5,468.8 448.7,470.2 449.0,468.9 449.5,468.2 449.7,469.9 450.0,469.1 450.5,468.4 451.0,469.5 451.2,473.1 451.5,469.1 451.7,470.1 452.0,469.7 452.2,473.8 452.5,469.8 452.7,472.3 453.0,469.8 453.2,471.0 453.5,469.4 453.7,471.9 454.0,469.5 454.2,471.0 454.5,470.3 454.7,471.9 455.0,470.1 455.5,470.0 456.0,470.3 456.2,472.4 456.5,469.9 456.7,471.8 457.0,470.0 457.5,470.3 457.7,473.3 458.0,470.8 458.2,472.9 458.5,471.0 459.0,470.6 459.2,472.6 459.5,470.9 460.0,471.3 460.2,474.0 460.5,471.9 460.7,473.8" fill="none" stroke="#5be01c" stroke-width="0.9" stroke-linejoin="round" stroke-linecap="round" /><text x="81.5" y="497.9" font-size="10.3" text-anchor="start" font-weight="normal" fill="#111" >ν(OH)</text><text x="132.8" y="468.9" font-size="10.3" text-anchor="start" font-weight="normal" fill="#111" >ν(SH)</text><text x="153.9" y="498.2" font-size="10.3" text-anchor="start" font-weight="normal" fill="#111" >ν(C=O)</text><text x="198.5" y="494.5" font-size="10.3" text-anchor="start" font-weight="normal" fill="#111" >δ(C-H)</text><text x="229.1" y="486.9" font-size="10.3" text-anchor="start" font-weight="normal" fill="#111" >ν(C-O)</text><text x="236.9" y="499.9" font-size="10.3" text-anchor="start" font-weight="normal" fill="#111" >acyl</text><line x1="234.2" y1="478.6" x2="227.5" y2="471.8" stroke="#000" stroke-width="1.1"/><polygon points="224.5,469.0 230.8,470.9 226.4,475.4" fill="#000"/><text x="330.7" y="477.5" font-size="10.3" text-anchor="start" font-weight="normal" fill="#111" >ν(OH)</text><text x="384" y="441.7" font-size="10.3" text-anchor="start" font-weight="normal" fill="#111" >ν(SH)</text><text x="404.5" y="454.8" font-size="10.3" text-anchor="start" font-weight="normal" fill="#111" >ν(C=O)</text><text x="449.8" y="467.8" font-size="10.3" text-anchor="start" font-weight="normal" fill="#111" >δ(C-H)</text><text x="478.7" y="449.4" font-size="10.3" text-anchor="start" font-weight="normal" fill="#111" >ν(C-O)</text><text x="486.3" y="461.3" font-size="10.3" text-anchor="start" font-weight="normal" fill="#111" >acyl</text><text x="479.2" y="493.5" font-size="10.3" text-anchor="start" font-weight="normal" fill="#111" >ν(C-O)</text><text x="479.2" y="507" font-size="10.3" text-anchor="start" font-weight="normal" fill="#111" >alkoxy</text><line x1="429.8" y1="443.6" x2="435.5" y2="441.6" stroke="#000" stroke-width="1.1"/><polygon points="439,440.6 434,439.2 435.2,443.8" fill="#000"/><line x1="478.7" y1="442.5" x2="475.8" y2="440.6" stroke="#000" stroke-width="1.1"/><polygon points="472.8,438.9 477.8,438.6 475.6,442.6" fill="#000"/><line x1="91.5" y1="370.8" x2="101.2" y2="364.7" stroke="#3d3d3d" stroke-width="1.25"/><line x1="101.2" y1="364.7" x2="111.2" y2="370.5" stroke="#3d3d3d" stroke-width="1.25"/><line x1="111.2" y1="370.5" x2="111.4" y2="380" stroke="#3d3d3d" stroke-width="1.25"/><line x1="109.5" y1="384" x2="101.2" y2="388.2" stroke="#3d3d3d" stroke-width="1.25"/><line x1="101.2" y1="388.2" x2="91.5" y2="382.4" stroke="#3d3d3d" stroke-width="1.25"/><line x1="91.5" y1="382.4" x2="91.5" y2="370.8" stroke="#3d3d3d" stroke-width="1.25"/><line x1="93.3" y1="372.5" x2="93.3" y2="381" stroke="#3d3d3d" stroke-width="1.25"/><line x1="102" y1="366.6" x2="109.5" y2="371" stroke="#3d3d3d" stroke-width="1.25"/><line x1="111.2" y1="370.5" x2="120.5" y2="367.5" stroke="#3d3d3d" stroke-width="1.25"/><line x1="124.6" y1="368.5" x2="130.2" y2="376.9" stroke="#3d3d3d" stroke-width="1.25"/><line x1="130.2" y1="376.9" x2="123.0" y2="385.6" stroke="#3d3d3d" stroke-width="1.25"/><line x1="123.0" y1="385.6" x2="113.5" y2="383.5" stroke="#3d3d3d" stroke-width="1.25"/><line x1="101.2" y1="388.2" x2="101.2" y2="397" stroke="#3d3d3d" stroke-width="1.25"/><line x1="102.6" y1="388.5" x2="102.6" y2="397" stroke="#3d3d3d" stroke-width="1.25"/><line x1="123.0" y1="385.6" x2="127.1" y2="397.6" stroke="#3d3d3d" stroke-width="1.25"/><line x1="127.1" y1="397.6" x2="135.5" y2="399.2" stroke="#3d3d3d" stroke-width="1.25"/><line x1="127.1" y1="397.6" x2="120" y2="404.5" stroke="#3d3d3d" stroke-width="1.25"/><line x1="126.2" y1="396.2" x2="119.2" y2="403.2" stroke="#3d3d3d" stroke-width="1.25"/><line x1="80.5" y1="365.1" x2="91.5" y2="370.8" stroke="#3d3d3d" stroke-width="1.25"/><line x1="80.5" y1="365.1" x2="72.5" y2="369.4" stroke="#3d3d3d" stroke-width="1.25"/><line x1="80.5" y1="365.1" x2="80.5" y2="356" stroke="#3d3d3d" stroke-width="1.25"/><line x1="82" y1="365" x2="82" y2="356.5" stroke="#3d3d3d" stroke-width="1.25"/><text x="80.6" y="355.2" font-size="5.6" text-anchor="middle" fill="#222" stroke="#222" stroke-width="0.25">O</text><text x="68.8" y="372.6" font-size="5.6" text-anchor="middle" fill="#222" stroke="#222" stroke-width="0.25">HO</text><text x="122.8" y="368.8" font-size="5.6" text-anchor="middle" fill="#222" stroke="#222" stroke-width="0.25">S</text><text x="111.5" y="384.6" font-size="5.6" text-anchor="middle" fill="#222" stroke="#222" stroke-width="0.25">N</text><text x="101.3" y="401.4" font-size="5.6" text-anchor="middle" fill="#222" stroke="#222" stroke-width="0.25">O</text><text x="118.3" y="407.5" font-size="5.6" text-anchor="middle" fill="#222" stroke="#222" stroke-width="0.25">O</text><text x="140" y="401.5" font-size="5.6" text-anchor="middle" fill="#222" stroke="#222" stroke-width="0.25">OH</text></svg>
</body></html>
